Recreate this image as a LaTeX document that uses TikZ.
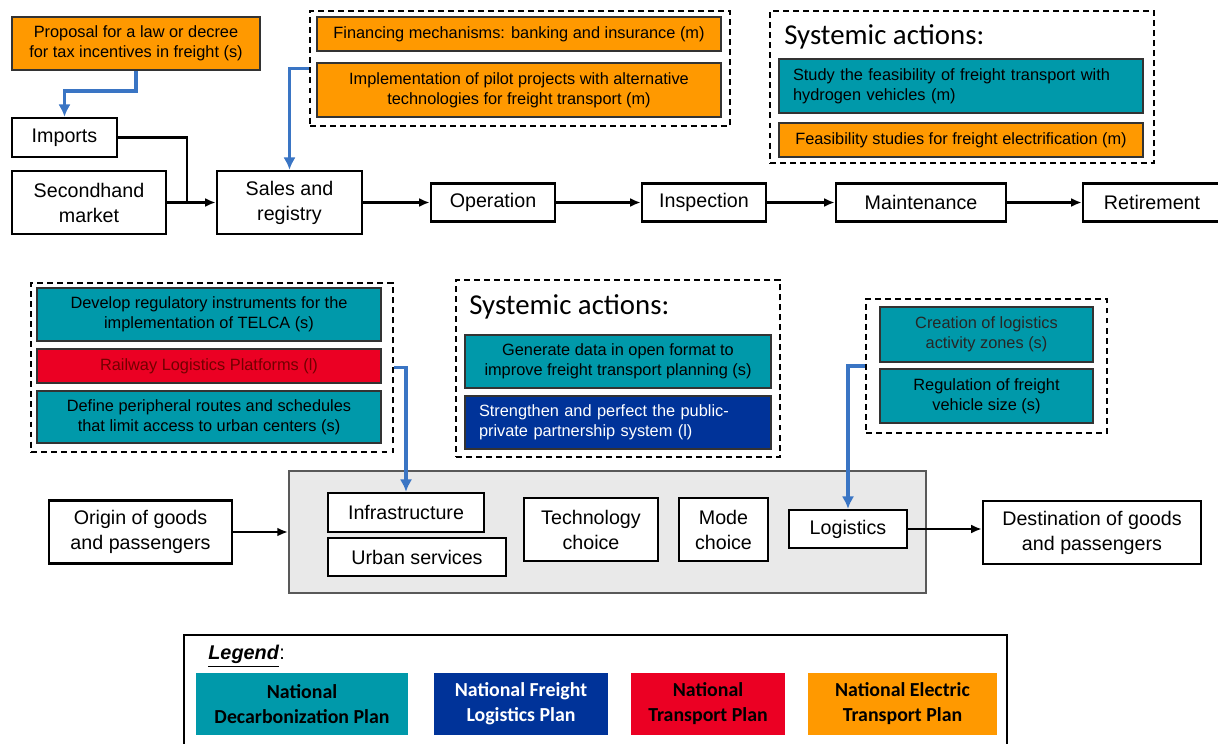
\documentclass[tikz,border=0pt]{standalone}
\usepackage{fontspec}
\setmainfont{Liberation Sans}
\newfontfamily\calibrifont{Carlito}
\usetikzlibrary{arrows.meta,positioning}
\definecolor{decarb}{RGB}{0,153,170}
\definecolor{freight}{RGB}{0,51,153}
\definecolor{transp}{RGB}{235,0,35}
\definecolor{electric}{RGB}{255,153,0}
\definecolor{linkblue}{RGB}{58,117,196}
\definecolor{panelgray}{RGB}{233,233,233}
\tikzset{
  wh/.style 2 args={
    minimum width=#1*0.02cm,
    minimum height=#2*0.02cm},
  stage/.style={
    rectangle,
    draw=black, line width=1.4pt,
    fill=white,
    inner sep=0pt,
    align=center,
    font=\fontsize{11.2}{14.2}\selectfont},
  action/.style={
    rectangle,
    draw=black!80, line width=1pt,
    inner sep=0pt,
    align=center,
    font=\fontsize{9.3}{11.5}\selectfont},
  group/.style={
    rectangle,
    draw, line width=0.9pt,
    dash pattern=on 3.4pt off 2.3pt,
    inner sep=0pt},
  panelbox/.style={
    rectangle,
    draw=black!65, line width=1.2pt,
    fill=panelgray,
    inner sep=0pt},
  systitle/.style={
    anchor=west, inner sep=0pt,
    font=\calibrifont\fontsize{16.4}{18}\selectfont},
  legendbox/.style={
    rectangle,
    inner sep=0pt,
    align=center,
    font=\calibrifont\bfseries\fontsize{11.3}{14.2}\selectfont},
  line/.style={draw, line width=1.3pt, -{Latex[length=6pt,width=5pt]}},
  link/.style={draw=linkblue, line width=2.2pt, -{Latex[length=7pt,width=7pt]}},
}

\begin{document}
\begin{tikzpicture}[x=0.02cm, y=-0.02cm]
  \useasboundingbox (0,0) rectangle (1218,744);

  % vehicle life cycle
  \node[action, fill=electric, wh={248}{53}] (Proposal) at (136,43.5)
    {Proposal for a law or decree\\for tax incentives in freight (s)};
  \node[stage, wh={105}{39}] (Imports) at (64.5,137.5) {Imports};
  \node[stage, wh={154}{63}] (Secondhand) at (89,202.5) {Secondhand\\market};
  \node[stage, wh={145}{63}] (Sales) at (289.5,202.5) {Sales and\\registry};
  \node[stage, wh={124}{38}] (Operation) at (493,202.5) {Operation};
  \node[stage, wh={124}{38}] (Inspection) at (704,202.5) {Inspection};
  \node[stage, wh={170}{38}] (Maintenance) at (921,202.5) {Maintenance};
  \node[stage, wh={138}{38}] (Retirement) at (1152,202.5) {Retirement};

  \node[group, wh={420}{115}] (FinGroup) at (520,68.5) {};
  \node[action, fill=electric, wh={404}{34}] (Financing) at (519,34)
    {Financing mechanisms: banking and insurance (m)};
  \node[action, fill=electric, wh={404}{54}] (Pilot) at (519,90)
    {Implementation of pilot projects with alternative\\technologies for freight transport (m)};

  \node[group, wh={384}{152}] (TopSystemic) at (962,87) {};
  \node[systitle] (TopSysTitle) at (784,37) {Systemic actions:};
  \node[action, fill=decarb, wh={364}{54}, align=left,
    inner xsep=0.28cm, text width=6.72cm] (Hydrogen) at (961,86)
    {Study the feasibility of freight transport with\\hydrogen vehicles (m)};
  \node[action, fill=electric, wh={364}{34}] (Electrification) at (961,140)
    {Feasibility studies for freight electrification (m)};

  \coordinate (ImportsJoin) at (187,202.5);
  \draw[line width=1.3pt] (Imports.east) -| (ImportsJoin);
  \draw[line] (Secondhand.east) -- (Sales.west);
  \draw[line] (Sales.east) -- (Operation.west);
  \draw[line] (Operation.east) -- (Inspection.west);
  \draw[line] (Inspection.east) -- (Maintenance.west);
  \draw[line] (Maintenance.east) -- (Retirement.west);

  \draw[link] (Proposal.south) -- ++(0,20) -| (Imports.north);
  \draw[link] (FinGroup.west) -| (Sales.north);

  % trip from origin to destination
  \node[group, wh={362}{169}] (UrbanGroup) at (212,367.5) {};
  \node[action, fill=decarb, wh={344}{53}] (Telca) at (209,314.5)
    {Develop regulatory instruments for the\\implementation of TELCA (s)};
  \node[action, fill=transp, wh={344}{34}, text=red!45!black] (Railway) at (209,366)
    {Railway Logistics Platforms (l)};
  \node[action, fill=decarb, wh={344}{52}] (Routes) at (209,417)
    {Define peripheral routes and schedules\\that limit access to urban centers (s)};

  \node[group, wh={324}{177}] (MidSystemic) at (618,368.5) {};
  \node[systitle] (MidSysTitle) at (469,307) {Systemic actions:};
  \node[action, fill=decarb, wh={306}{53}] (OpenData) at (618,361.5)
    {Generate data in open format to\\improve freight transport planning (s)};
  \node[action, fill=freight, wh={306}{53}, text=white, align=left,
    inner xsep=0.28cm, text width=5.56cm] (Partnership) at (618,422.5)
    {Strengthen and perfect the public-\\private partnership system (l)};

  \node[group, wh={241}{134}] (LogGroup) at (986.5,366) {};
  \node[action, fill=decarb, wh={213}{55}, text=black!85] (Zones) at (986.5,334.5)
    {Creation of logistics\\activity zones (s)};
  \node[action, fill=decarb, wh={213}{54}] (VehicleSize) at (986.5,396)
    {Regulation of freight\\vehicle size (s)};

  \node[panelbox, wh={637}{122}] (Panel) at (607.5,532) {};
  \node[stage, wh={183}{63}] (Origin) at (140.5,532) {Origin of goods\\and passengers};
  \node[stage, wh={156}{39}] (Infrastructure) at (406,512.5) {Infrastructure};
  \node[stage, wh={178}{38}] (UrbanServices) at (417,557) {Urban services};
  \node[stage, wh={134}{63}] (Technology) at (591,529.5) {Technology\\choice};
  \node[stage, wh={89}{63}] (Mode) at (723.5,529.5) {Mode\\choice};
  \node[stage, wh={118}{38}] (Logistics) at (848,529) {Logistics};
  \node[stage, wh={218}{63}] (Destination) at (1092,532.5) {Destination of goods\\and passengers};

  \draw[line] (Origin.east) -- (Panel.west);
  \draw[line] (Logistics.east) -- (Logistics.east -| Destination.west);
  \draw[link] (UrbanGroup.east) -| (Infrastructure.north);
  \draw[link] (LogGroup.west) -| (Logistics.north);

  % legend
  \node[draw, line width=1.2pt, inner sep=0pt, wh={823}{115}] (LegendFrame) at (595.5,692.5) {};
  \node[anchor=west, inner sep=0pt, font=\fontsize{11.3}{14}\selectfont] (LegendTitle) at (208,656)
    {\underline{\textbf{\textit{Legend}}}:};
  \node[legendbox, fill=decarb, wh={212}{62}] (LegDecarb) at (302,704)
    {National\\Decarbonization Plan};
  \node[legendbox, fill=freight, text=white, wh={174}{62}] (LegFreight) at (521,704)
    {National Freight\\Logistics Plan};
  \node[legendbox, fill=transp, wh={154}{62}] (LegTransport) at (708,704)
    {National\\Transport Plan};
  \node[legendbox, fill=electric, wh={189}{62}] (LegElectric) at (902.5,704)
    {National Electric\\Transport Plan};
\end{tikzpicture}
\end{document}
